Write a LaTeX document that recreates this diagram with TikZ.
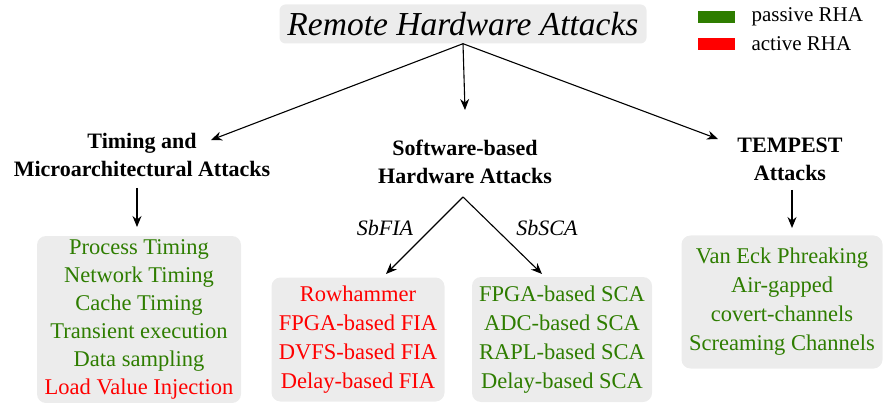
\documentclass[tikz,border=0pt]{standalone}
\usepackage{fontspec}
\setmainfont{Liberation Serif}
\usepackage{tikz}
\usetikzlibrary{arrows.meta}
\definecolor{passgreen}{RGB}{46,125,0}
\definecolor{actred}{RGB}{255,0,0}
\definecolor{boxgray}{RGB}{236,236,236}
\tikzset{
	arr/.style = {line width=1.1pt,-{Stealth[length=11pt,width=9pt]}},
	grpbox/.style = {fill=boxgray, rounded corners=9pt, align=center, inner sep=0pt},
	heading/.style = {align=center, font=\fontsize{22}{28}\selectfont\bfseries},
	branch/.style = {font=\fontsize{22}{24}\selectfont\itshape}
}
\newcommand{\legend}[4]{
	\fill [#2] (698,#1-6) rectangle (735,#1+6);
	\node [anchor=west, font=\fontsize{21}{24}\selectfont] (#3) at (748,#1) {#4};
}

\begin{document}
\begin{tikzpicture}[x=1pt, y=-1pt]
\useasboundingbox (0,0) rectangle (885,403);
% title
\node [fill=boxgray, rounded corners=6pt, minimum width=367pt, minimum height=39pt, font=\fontsize{33.5}{35}\selectfont\itshape] (title) at (463,24) {Remote Hardware Attacks};
% legend
\legend{17}{passgreen}{legPass}{passive RHA}
\legend{44}{actred}{legAct}{active RHA}
% headings
\node [heading] (hdTiming) at (142,155) {Timing and\\Microarchitectural Attacks};
\node [heading] (hdSoft) at (465,162) {Software-based\\Hardware Attacks};
\node [heading] (hdTemp) at (790,159) {TEMPEST\\Attacks};
% boxes
\node [grpbox, minimum width=204pt, minimum height=167pt, font=\fontsize{22.5}{28}\selectfont] (boxTiming) at (139,319.5) {
	\color{passgreen}Process Timing\\ \color{passgreen}Network Timing\\ \color{passgreen}Cache Timing\\
	\color{passgreen}Transient execution\\ \color{passgreen}Data sampling\\ \color{actred}Load Value Injection};
\node [grpbox, minimum width=173pt, minimum height=124pt, font=\fontsize{22.5}{29}\selectfont] (boxFIA) at (358,339.5) {
	\color{actred}Rowhammer\\ \color{actred}FPGA-based FIA\\ \color{actred}DVFS-based FIA\\ \color{actred}Delay-based FIA};
\node [grpbox, minimum width=180pt, minimum height=125pt, font=\fontsize{22.5}{29}\selectfont] (boxSCA) at (562,339.5) {
	\color{passgreen}FPGA-based SCA\\ \color{passgreen}ADC-based SCA\\ \color{passgreen}RAPL-based SCA\\ \color{passgreen}Delay-based SCA};
\node [grpbox, minimum width=201pt, minimum height=133pt, font=\fontsize{22.5}{29}\selectfont] (boxTemp) at (782,302) {
	\color{passgreen}Van Eck Phreaking\\ \color{passgreen}Air-gapped\\ \color{passgreen}covert-channels\\ \color{passgreen}Screaming Channels};
% connectors
\coordinate (tipTiming) at (211,140);
\coordinate (tipTemp) at (718,139);
\coordinate (apex) at (463,197);
\draw [arr] (title.south) -- (tipTiming);
\draw [arr] (title.south) -- (465,110) coordinate (tipSoft);
\draw [arr] (title.south) -- (tipTemp);
\draw [arr] (137,188) coordinate (fromTiming) -- (137,227) coordinate (toTiming);
\draw [arr] (792,190) coordinate (fromTemp) -- (792,228) coordinate (toTemp);
\draw [arr] (apex) -- (386,274) coordinate (tipFIA);
\draw [arr] (apex) -- (542,274) coordinate (tipSCA);
\node [branch] (lblFIA) at (385,228) {SbFIA};
\node [branch] (lblSCA) at (547,228) {SbSCA};
\end{tikzpicture}
\end{document}
